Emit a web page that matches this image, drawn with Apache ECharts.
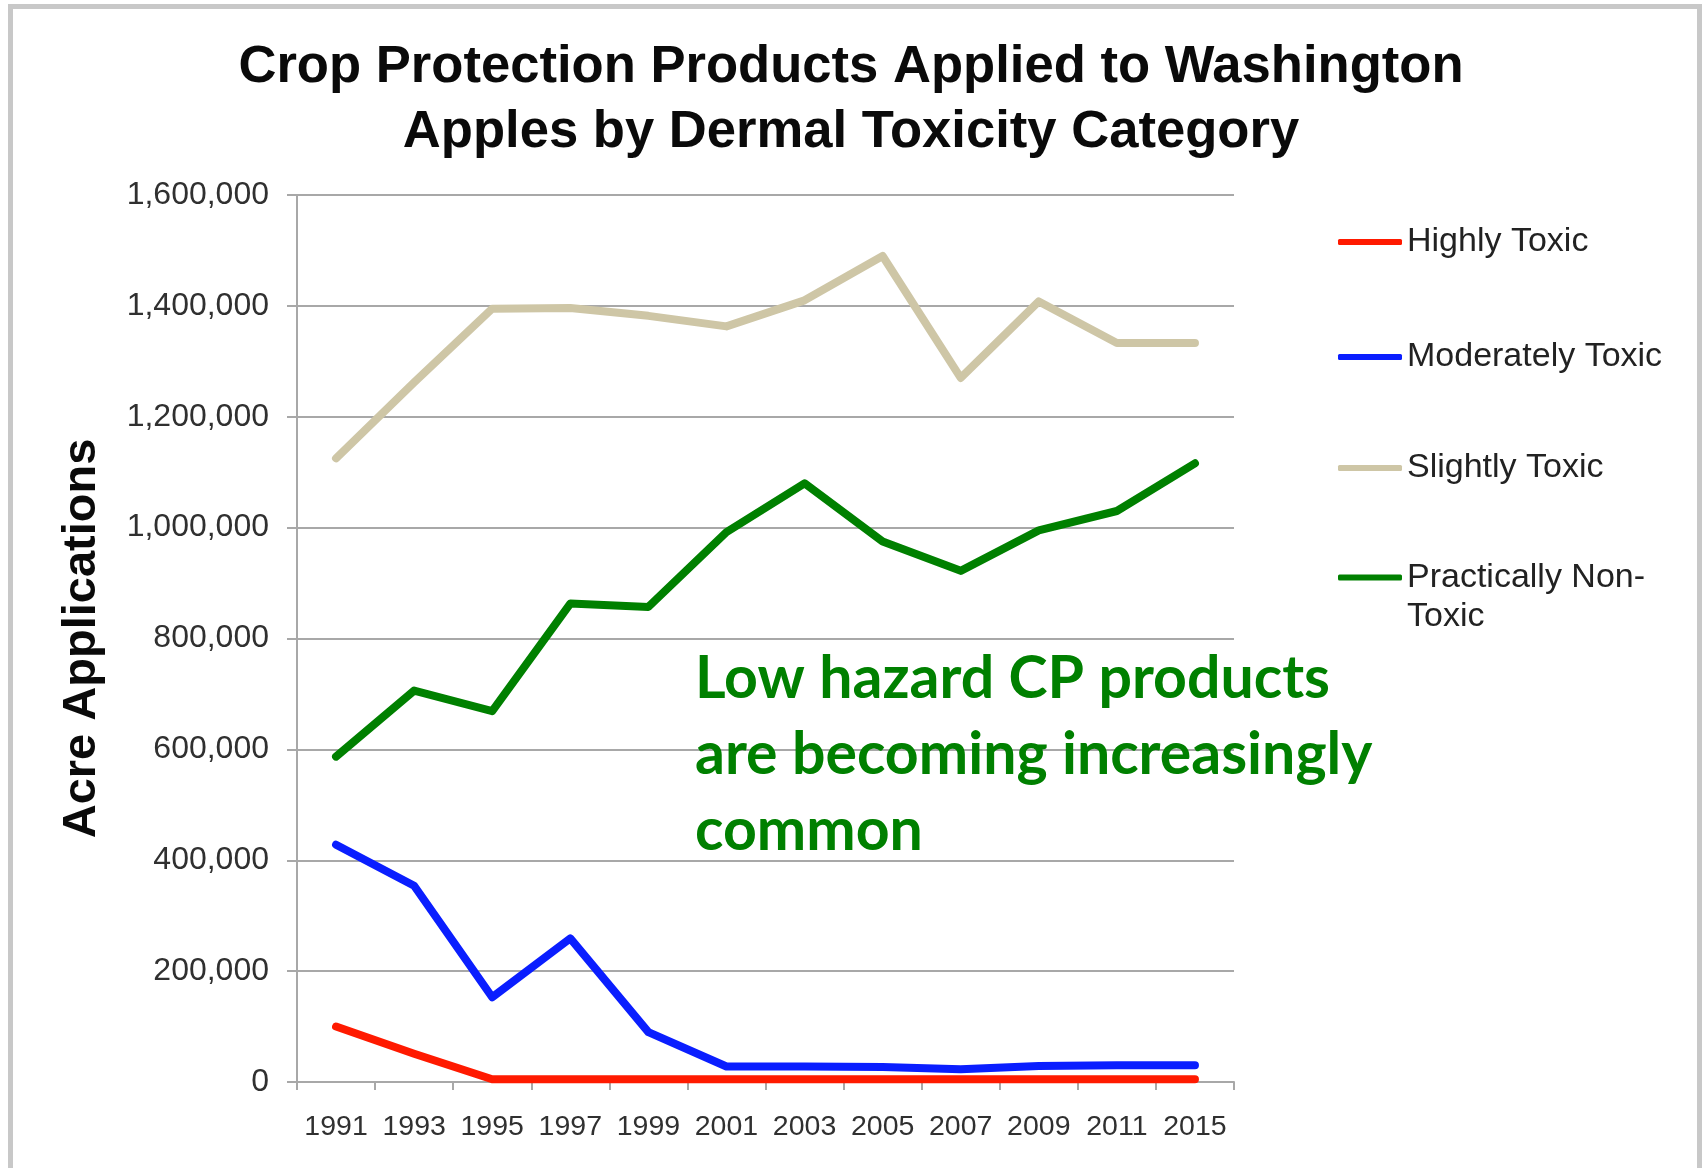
<!DOCTYPE html>
<html>
<head>
<meta charset="utf-8">
<title>Crop Protection Products Applied to Washington Apples</title>
<script src="https://cdn.jsdelivr.net/npm/echarts@6/dist/echarts.min.js"></script>
<style>
  html, body { margin: 0; padding: 0; background: #ffffff; }
  #chart { width: 1702px; height: 1168px; }
</style>
</head>
<body>
<div id="chart"></div>
<script>
// Survey years on the category axis
var years = ['1991', '1993', '1995', '1997', '1999', '2001', '2003', '2005', '2007', '2009', '2011', '2015'];

// Acre applications by dermal toxicity category
var highlyToxic = [100000, 51000, 5000, 5000, 5000, 5000, 5000, 5000, 5000, 5000, 5000, 5000];
var moderatelyToxic = [428000, 354000, 153000, 259000, 90000, 28000, 28000, 27000, 23000, 29000, 30000, 30000];
var slightlyToxic = [1125000, 1262000, 1395000, 1396000, 1382000, 1363000, 1410000, 1490000, 1270000, 1408000, 1333000, 1333000];
var practicallyNonToxic = [587000, 706000, 669000, 863000, 857000, 992000, 1080000, 975000, 922000, 995000, 1030000, 1116000];

var seriesNames = ['Highly Toxic', 'Moderately Toxic', 'Slightly Toxic', 'Practically Non-Toxic'];
var seriesData = [highlyToxic, moderatelyToxic, slightlyToxic, practicallyNonToxic];
var seriesColors = ['#ff1a00', '#0a1eff', '#cec6a6', '#008000'];

// Y axis range and ticks
var yMin = 0;
var yMax = 1600000;
var yStep = 200000;

var annotationLines = ['Low hazard CP products', 'are becoming increasingly', 'common'];

var chart = echarts.init(document.getElementById('chart'), null, { renderer: 'canvas' });

var gridColor = '#a8a8a8';
var labelColor = '#303030';
var baseFont = '"Liberation Sans", Arial, sans-serif';

// One legend block per series so each entry sits at its own height.
// The wrapped entry gets a blank first line so its icon lines up with "Practically Non-".
var legendTops = [222, 337, 448, 519];
var legends = seriesNames.map(function (name, i) {
  var isWrapped = name === 'Practically Non-Toxic';
  return {
    data: [name],
    orient: 'vertical',
    left: 1338,
    top: legendTops[i],
    padding: 0,
    icon: 'roundRect',
    itemWidth: 64,
    itemHeight: 6,
    itemGap: 0,
    selectedMode: false,
    formatter: isWrapped ? function () { return '\nPractically Non-\nToxic'; } : undefined,
    textStyle: {
      fontFamily: baseFont,
      fontSize: 34,
      color: '#222222',
      lineHeight: isWrapped ? 39 : 40
    }
  };
});

var option = {
  backgroundColor: '#ffffff',
  animation: false,
  title: {
    text: 'Crop Protection Products Applied to Washington\nApples by Dermal Toxicity Category',
    left: 'center',
    top: 30,
    textStyle: {
      fontFamily: baseFont,
      fontWeight: 'bold',
      fontSize: 52.6,
      lineHeight: 65,
      color: '#0a0a0a'
    }
  },
  legend: legends,
  grid: {
    left: 297,
    right: 468,
    top: 195,
    bottom: 86,
    containLabel: false
  },
  xAxis: {
    type: 'category',
    data: years,
    boundaryGap: true,
    axisLine: { show: true, lineStyle: { color: gridColor, width: 2 } },
    axisTick: { show: true, length: 8, alignWithLabel: false, lineStyle: { color: gridColor, width: 2 } },
    axisLabel: {
      margin: 31,
      fontFamily: baseFont,
      fontSize: 28.5,
      color: labelColor,
      interval: 0
    },
    splitLine: { show: false }
  },
  yAxis: {
    type: 'value',
    min: yMin,
    max: yMax,
    interval: yStep,
    name: 'Acre Applications',
    nameLocation: 'middle',
    nameGap: 191,
    nameTextStyle: {
      fontFamily: baseFont,
      fontWeight: 'bold',
      fontSize: 47,
      color: '#0a0a0a'
    },
    axisLine: { show: true, lineStyle: { color: gridColor, width: 2 } },
    axisTick: { show: true, length: 10, lineStyle: { color: gridColor, width: 2 } },
    axisLabel: {
      margin: 28,
      fontFamily: baseFont,
      fontSize: 32,
      color: labelColor,
      formatter: function (v) { return v.toLocaleString('en-US'); }
    },
    splitLine: { show: true, lineStyle: { color: gridColor, width: 2 } }
  },
  series: seriesNames.map(function (name, i) {
    return {
      name: name,
      type: 'line',
      data: seriesData[i],
      showSymbol: false,
      symbol: 'none',
      color: seriesColors[i],
      lineStyle: { width: 8, color: seriesColors[i], cap: 'round', join: 'round' },
      emphasis: { disabled: true }
    };
  }),
  graphic: [
    {
      // outer frame of the chart card
      type: 'rect',
      silent: true,
      shape: { x: 10.5, y: 6.5, width: 1689, height: 1250 },
      style: { fill: 'none', stroke: '#c8c8c8', lineWidth: 5 },
      z: 0
    },
    {
      type: 'text',
      silent: true,
      x: 695,
      y: 641,
      style: {
        text: annotationLines.join('\n'),
        fontFamily: 'Lato, "Open Sans", sans-serif',
        fontWeight: 'bold',
        fontSize: 59,
        lineHeight: 76,
        fill: '#008000',
        verticalAlign: 'top'
      },
      z: 100
    }
  ]
};

chart.setOption(option);
</script>
</body>
</html>
